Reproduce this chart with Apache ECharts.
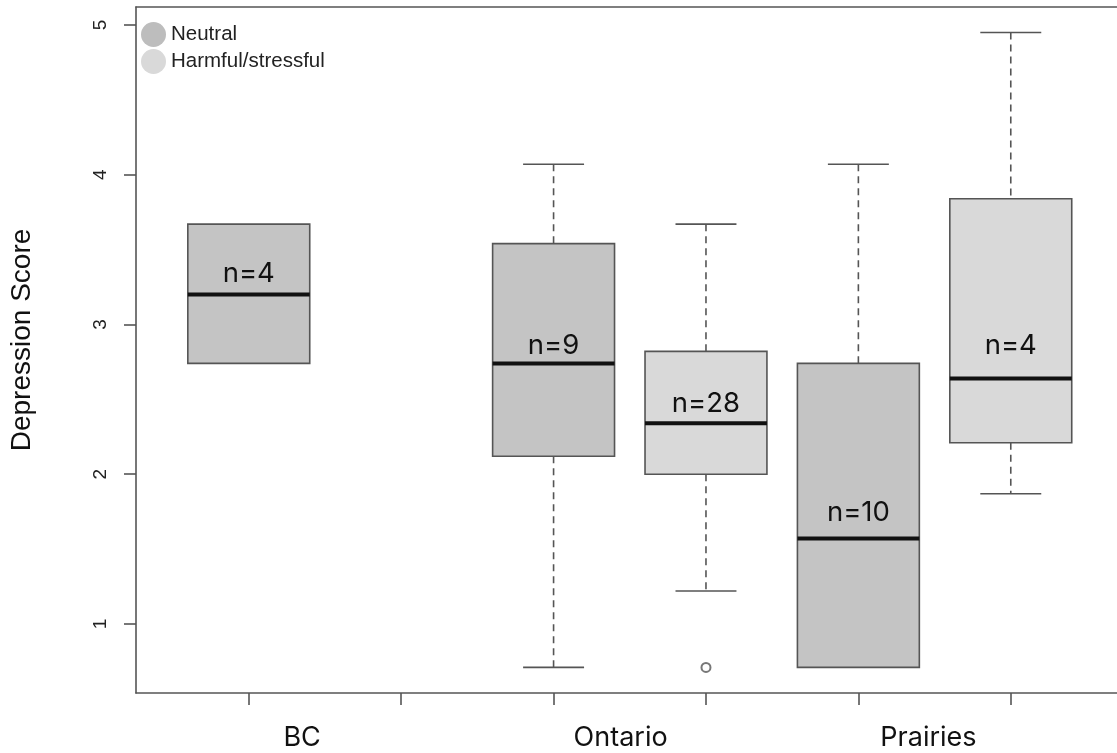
<!DOCTYPE html>
<html>
<head>
<meta charset="utf-8">
<script src="https://cdn.jsdelivr.net/npm/echarts@6/dist/echarts.min.js"></script>
<style>
html,body{margin:0;padding:0;background:#fff;}
#chart{width:1117px;height:753px;}
</style>
</head>
<body>
<div id="chart"></div>
<script>
// ---- data ----
const groups = ['BC', 'Ontario', 'Prairies'];
const types = ['Neutral', 'Harmful/stressful'];
// slots in order: BC-Neutral, BC-Harmful, Ontario-Neutral, Ontario-Harmful, Prairies-Neutral, Prairies-Harmful
const whiskerLow  = [2.74, null, 0.71, 1.22, 0.71, 1.87];
const q1          = [2.74, null, 2.12, 2.00, 0.71, 2.21];
const median      = [3.20, null, 2.74, 2.34, 1.57, 2.64];
const q3          = [3.67, null, 3.54, 2.82, 2.74, 3.84];
const whiskerHigh = [3.67, null, 4.07, 3.67, 4.07, 4.95];
const nCounts     = [4, null, 9, 28, 10, 4];
const nLabelValue = [3.34, null, 2.86, 2.47, 1.74, 2.86];
const outlierSlot  = [3];
const outlierValue = [0.71];
const yTicks = [1, 2, 3, 4, 5];

// ---- build ----
const fills = {'Neutral': '#c4c4c4', 'Harmful/stressful': '#d9d9d9'};
const legendColors = {'Neutral': '#bdbdbd', 'Harmful/stressful': '#d9d9d9'};
const stroke = '#555555';

function seriesData(typeIdx) {
  const out = [];
  for (let g = 0; g < groups.length; g++) {
    const s = g * types.length + typeIdx;
    if (median[s] == null) continue;
    out.push([s + 1, whiskerLow[s], q1[s], median[s], q3[s], whiskerHigh[s], nLabelValue[s], nCounts[s]]);
  }
  return out;
}

function makeRender(fill) {
  return function (params, api) {
    const x = api.value(0);
    const lo = api.coord([x, api.value(1)]);
    const b1 = api.coord([x, api.value(2)]);
    const md = api.coord([x, api.value(3)]);
    const b3 = api.coord([x, api.value(4)]);
    const hi = api.coord([x, api.value(5)]);
    const lb = api.coord([x, api.value(6)]);
    const w = api.size([0.8, 0])[0];
    const cw = w / 2;
    const cx = md[0];
    const children = [];
    const dash = {stroke: stroke, lineWidth: 1.6, lineDash: [7, 5]};
    const solid = {stroke: stroke, lineWidth: 1.6};
    if (hi[1] < b3[1] - 0.5) {
      children.push({type: 'line', shape: {x1: cx, y1: hi[1], x2: cx, y2: b3[1]}, style: dash});
      children.push({type: 'line', shape: {x1: cx - cw / 2, y1: hi[1], x2: cx + cw / 2, y2: hi[1]}, style: solid});
    }
    if (lo[1] > b1[1] + 0.5) {
      children.push({type: 'line', shape: {x1: cx, y1: b1[1], x2: cx, y2: lo[1]}, style: dash});
      children.push({type: 'line', shape: {x1: cx - cw / 2, y1: lo[1], x2: cx + cw / 2, y2: lo[1]}, style: solid});
    }
    children.push({type: 'rect', shape: {x: cx - w / 2, y: b3[1], width: w, height: b1[1] - b3[1]},
      style: {fill: fill, stroke: stroke, lineWidth: 1.6}});
    children.push({type: 'line', shape: {x1: cx - w / 2, y1: md[1], x2: cx + w / 2, y2: md[1]},
      style: {stroke: '#111', lineWidth: 4}});
    children.push({type: 'text', style: {text: 'n=' + api.value(7), x: cx, y: lb[1],
      align: 'center', verticalAlign: 'middle', fill: '#111',
      font: '27.5px Inter, "Noto Sans", sans-serif'}});
    return {type: 'group', children: children};
  };
}

const xLabelPos = [1.35, 3.44, 5.46];
function xLabelFor(v) {
  for (let i = 0; i < xLabelPos.length; i++) {
    if (Math.abs(v - xLabelPos[i]) < 0.01) return groups[i];
  }
  return '';
}

const xMin = 0.26, xMax = 6.697;
const lineStyle = {color: stroke, width: 1.6};

const chart = echarts.init(document.getElementById('chart'), null, {renderer: 'canvas'});
chart.setOption({
  animation: false,
  backgroundColor: '#fff',
  grid: {left: 136, top: 7, right: 0, bottom: 60, show: false},
  legend: {
    orient: 'vertical', left: 136, top: 17, padding: 5, itemGap: 2,
    itemWidth: 25, itemHeight: 25, icon: 'circle', selectedMode: false,
    data: types.map(t => ({name: t, itemStyle: {color: legendColors[t]}})),
    textStyle: {fontSize: 20.5, fontFamily: '"Liberation Sans", Arial, sans-serif', color: '#222'}
  },
  xAxis: [{
    type: 'value', min: xMin, max: xMax, position: 'bottom',
    axisLine: {show: true, onZero: false, lineStyle: lineStyle},
    axisTick: {show: true, length: 12, customValues: [1, 2, 3, 4, 5, 6], lineStyle: lineStyle},
    axisLabel: {show: true, customValues: xLabelPos, margin: 31, formatter: xLabelFor,
      fontSize: 27, fontFamily: 'Inter, "Noto Sans", sans-serif', color: '#111'},
    splitLine: {show: false}
  }, {
    type: 'value', min: xMin, max: xMax, position: 'top',
    axisLine: {show: true, onZero: false, lineStyle: lineStyle},
    axisTick: {show: false}, axisLabel: {show: false}, splitLine: {show: false}
  }],
  yAxis: {
    type: 'value', min: 0.539, max: 5.12,
    name: 'Depression Score', nameLocation: 'middle', nameGap: 100, nameRotate: 90,
    nameTextStyle: {fontSize: 28, fontFamily: '"Liberation Sans", Arial, sans-serif', color: '#111',
      padding: [0, 0, 0, 20]},
    axisLine: {show: true, onZero: false, lineStyle: lineStyle},
    axisTick: {show: true, length: 12, customValues: yTicks, lineStyle: lineStyle},
    axisLabel: {show: true, customValues: yTicks, rotate: 90, margin: 26,
      fontSize: 19, fontFamily: '"Liberation Sans", Arial, sans-serif', color: '#222'},
    splitLine: {show: false}
  },
  series: [
    {name: types[0], type: 'custom', itemStyle: {color: legendColors[types[0]]},
      renderItem: makeRender(fills[types[0]]), data: seriesData(0), encode: {x: 0, y: [1, 2, 3, 4, 5]}, z: 3},
    {name: types[1], type: 'custom', itemStyle: {color: legendColors[types[1]]},
      renderItem: makeRender(fills[types[1]]), data: seriesData(1), encode: {x: 0, y: [1, 2, 3, 4, 5]}, z: 3},
    {name: 'outliers', type: 'scatter', symbol: 'emptyCircle', symbolSize: 9,
      itemStyle: {color: stroke, borderColor: stroke, borderWidth: 1.5},
      data: outlierSlot.map((s, i) => [s + 1, outlierValue[i]]), z: 4}
  ]
});
</script>
</body>
</html>
